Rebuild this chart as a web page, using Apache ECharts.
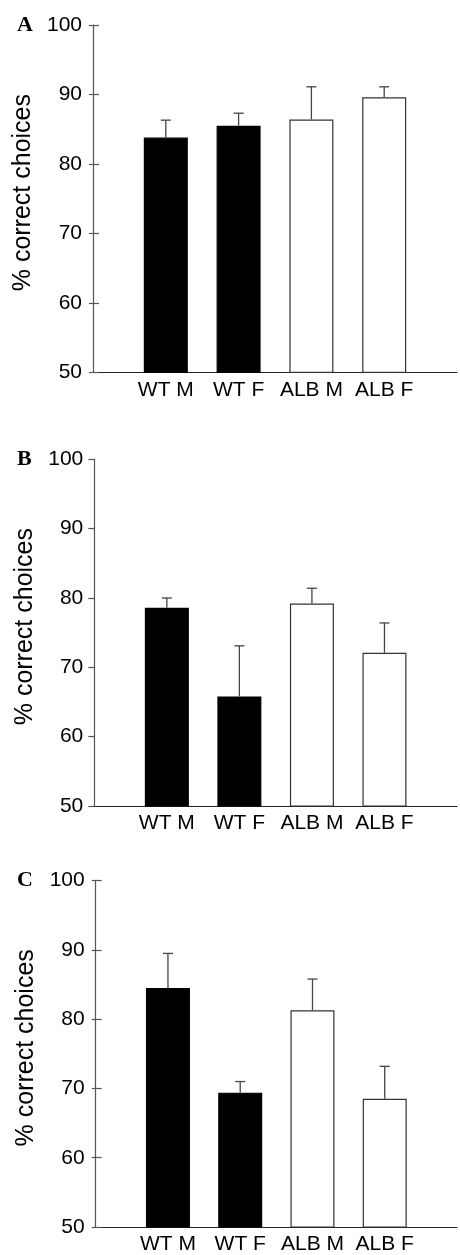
<!DOCTYPE html>
<html>
<head>
<meta charset="utf-8">
<script src="https://cdn.jsdelivr.net/npm/echarts@6/dist/echarts.min.js"></script>
<style>
  html, body { margin: 0; padding: 0; background: #fff; }
  #chart { width: 460px; height: 1255px; }
</style>
</head>
<body>
<div id="chart"></div>
<script>
// ---- data ----
const categories = ['WT M', 'WT F', 'ALB M', 'ALB F'];
const barFill = ['#000000', '#000000', '#ffffff', '#ffffff'];
const meansA = [83.8, 85.5, 86.4, 89.6];
const semA   = [2.5, 1.8, 4.7, 1.5];
const meansB = [78.6, 65.8, 79.2, 72.1];
const semB   = [1.4, 7.3, 2.2, 4.3];
const meansC = [84.5, 69.4, 81.3, 68.5];
const semC   = [5.0, 1.6, 4.5, 4.7];
const yMin = 50, yMax = 100, yStep = 10;
const panelLetters = ['A', 'B', 'C'];
const yTitle = '% correct choices';

// ---- layout ----
const panels = [
  { means: meansA, sem: semA, left: 93,   top: 25,    height: 347.3, crossTicks: true,  letterY: 25 },
  { means: meansB, sem: semB, left: 94.3, top: 459.3, height: 346.7, crossTicks: false, letterY: 459 },
  { means: meansC, sem: semC, left: 95.7, top: 880.7, height: 346.6, crossTicks: true,  letterY: 880.5 }
];
const step = 73.7;
const font = '"Liberation Sans", Arial, sans-serif';
const axisData = [''].concat(categories).concat(['']);

const grid = [], xAxis = [], yAxis = [], series = [], graphic = [];

panels.forEach((p, k) => {
  grid.push({ left: p.left, top: p.top, width: step * 5, height: p.height, containLabel: false });
  xAxis.push({
    type: 'category', gridIndex: k, data: axisData, boundaryGap: false,
    axisLine: { lineStyle: { color: '#222', width: 1.2 } },
    axisTick: { show: false },
    axisLabel: { color: '#000', fontSize: 21, fontFamily: font, margin: 7, interval: 0 }
  });
  yAxis.push({
    type: 'value', gridIndex: k, min: yMin, max: yMax, interval: yStep,
    name: yTitle, nameLocation: 'middle', nameGap: 55,
    nameTextStyle: { color: '#000', fontSize: 25, fontFamily: font, padding: [0, 0, 0, 12] },
    axisLine: { show: true, lineStyle: { color: '#555', width: 1.2 } },
    axisTick: { show: true, inside: false, length: p.crossTicks ? 4 : 6, lineStyle: { color: '#555', width: 1.2 } },
    axisLabel: { color: '#000', fontSize: 21, fontFamily: font, margin: 11 },
    splitLine: { show: false }
  });
  const yIdxMain = yAxis.length - 1;
  if (p.crossTicks) {
    yAxis.push({
      type: 'value', gridIndex: k, min: yMin, max: yMax, interval: yStep, position: 'left',
      axisLine: { show: false },
      axisTick: { show: true, inside: true, length: 6, lineStyle: { color: '#555', width: 1.2 } },
      axisLabel: { show: false }, splitLine: { show: false }
    });
  }
  series.push({
    type: 'bar', xAxisIndex: k, yAxisIndex: yIdxMain, barWidth: 44,
    data: ['-'].concat(p.means.map((v, i) => ({
      value: v,
      itemStyle: { color: barFill[i], borderColor: barFill[i] === '#000000' ? '#000' : '#333', borderWidth: 1.2 }
    }))).concat(['-']),
    silent: true, animation: false
  });
  series.push({
    type: 'custom', xAxisIndex: k, yAxisIndex: yIdxMain,
    data: p.means.map((m, i) => [i + 1, m, m + p.sem[i]]),
    encode: { x: 0, y: [1, 2] },
    renderItem: (params, api) => {
      const a = api.coord([api.value(0), api.value(1)]);
      const b = api.coord([api.value(0), api.value(2)]);
      const st = { stroke: '#444', lineWidth: 1.3 };
      return {
        type: 'group',
        children: [
          { type: 'line', shape: { x1: a[0], y1: a[1], x2: b[0], y2: b[1] }, style: st },
          { type: 'line', shape: { x1: b[0] - 5, y1: b[1], x2: b[0] + 5, y2: b[1] }, style: st }
        ]
      };
    },
    z: 5, silent: true, animation: false
  });
  graphic.push({
    type: 'text', left: 17, top: p.letterY - 11,
    style: { text: panelLetters[k], font: 'bold 22px "Liberation Serif", "Times New Roman", serif', fill: '#000' }
  });
});

const chart = echarts.init(document.getElementById('chart'), null, { renderer: 'canvas' });
chart.setOption({
  backgroundColor: '#fff',
  animation: false,
  grid, xAxis, yAxis, series, graphic
});
</script>
</body>
</html>
